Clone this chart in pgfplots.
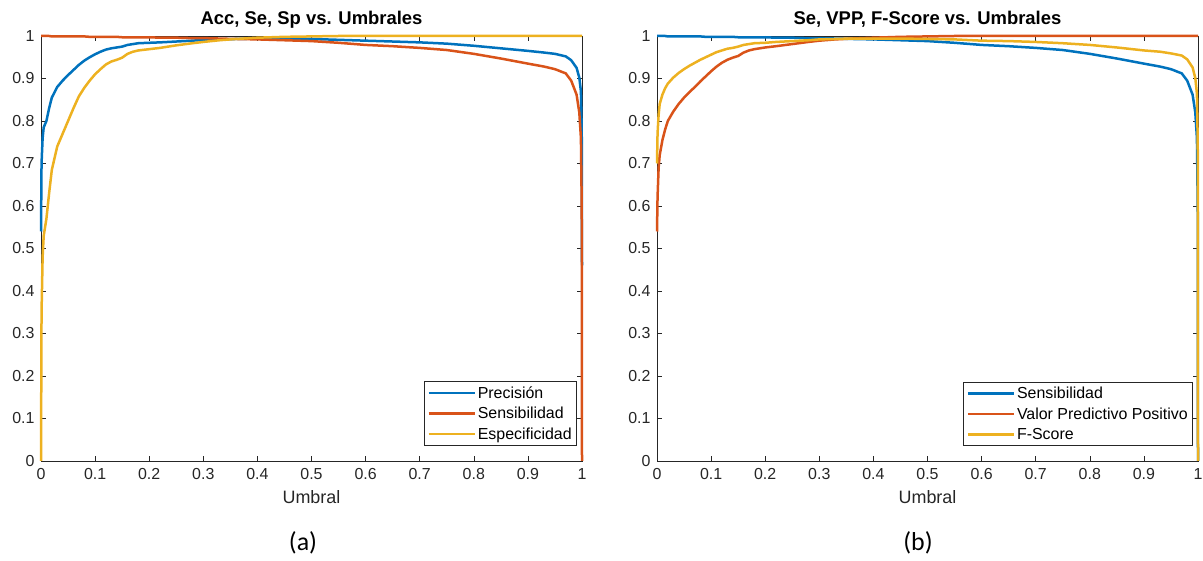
\documentclass[border=0pt]{standalone}
\usepackage{fontspec}
\setmainfont{Liberation Sans}
\newfontfamily\capfont{Carlito}
\usepackage{pgfplots}
\usepackage{pgfplotstable}
\pgfplotsset{compat=1.18}
\definecolor{mblue}{rgb}{0,0.447,0.741}
\definecolor{morange}{rgb}{0.85,0.325,0.098}
\definecolor{myellow}{rgb}{0.929,0.694,0.125}
\definecolor{axgray}{rgb}{0.15,0.15,0.15}

\pgfplotstableread{
x      acc    se     sp     vpp    f
0      0.54   1.000  0.00   0.54   0.70
0.001  0.70   1.000  0.35   0.62   0.77
0.003  0.76   1.000  0.48   0.69   0.815
0.005  0.785  1.000  0.53   0.72   0.84
0.01   0.80   1.000  0.57   0.755  0.862
0.015  0.83   1.000  0.63   0.78   0.877
0.02   0.855  0.999  0.685  0.80   0.888
0.03   0.88   0.999  0.74   0.822  0.902
0.04   0.895  0.999  0.77   0.84   0.913
0.05   0.908  0.999  0.80   0.855  0.922
0.06   0.92   0.999  0.83   0.868  0.93
0.07   0.932  0.999  0.858  0.88   0.937
0.08   0.942  0.999  0.878  0.893  0.944
0.09   0.95   0.998  0.895  0.905  0.950
0.1    0.957  0.998  0.91   0.917  0.956
0.11   0.963  0.998  0.922  0.928  0.962
0.12   0.968  0.998  0.933  0.937  0.966
0.13   0.971  0.998  0.94   0.944  0.970
0.14   0.973  0.998  0.944  0.949  0.972
0.15   0.975  0.997  0.949  0.953  0.975
0.16   0.979  0.997  0.958  0.961  0.979
0.17   0.981  0.997  0.963  0.966  0.981
0.18   0.983  0.997  0.966  0.969  0.983
0.2    0.984  0.997  0.969  0.973  0.984
0.22   0.985  0.996  0.972  0.976  0.986
0.25   0.987  0.996  0.978  0.981  0.988
0.28   0.989  0.995  0.983  0.986  0.990
0.3    0.991  0.995  0.986  0.989  0.992
0.33   0.992  0.994  0.990  0.992  0.993
0.36   0.993  0.993  0.993  0.994  0.994
0.4    0.994  0.992  0.996  0.996  0.994
0.45   0.994  0.990  0.998  0.998  0.994
0.5    0.993  0.988  0.999  0.999  0.993
0.55   0.991  0.984  1.0    1.0    0.992
0.6    0.989  0.979  1.0    1.0    0.989
0.65   0.987  0.976  1.0    1.0    0.988
0.7    0.985  0.972  1.0    1.0    0.986
0.75   0.982  0.967  1.0    1.0    0.983
0.8    0.977  0.958  1.0    1.0    0.979
0.85   0.971  0.947  1.0    1.0    0.973
0.9    0.965  0.935  1.0    1.0    0.966
0.93   0.961  0.928  1.0    1.0    0.963
0.95   0.958  0.922  1.0    1.0    0.959
0.97   0.952  0.912  1.0    1.0    0.954
0.98   0.943  0.895  1.0    1.0    0.945
0.99   0.925  0.862  1.0    1.0    0.926
0.995  0.902  0.82   1.0    1.0    0.901
0.998  0.87   0.76   1.0    1.0    0.864
0.9995 0.78   0.60   1.0    1.0    0.75
1.0    0.46   0.00   1.0    1.0    0.00
}\data

\pgfplotsset{
  mstyle/.style={
    scale only axis, width=541bp, height=425bp,
    xmin=0, xmax=1, ymin=0, ymax=1,
    xtick={0,0.1,0.2,0.3,0.4,0.5,0.6,0.7,0.8,0.9,1},
    ytick={0,0.1,0.2,0.3,0.4,0.5,0.6,0.7,0.8,0.9,1},
    scaled ticks=false,
    tick align=inside,
    major tick length=5bp,
    axis line style={axgray, line width=0.6bp},
    every tick/.style={axgray, line width=0.6bp},
    /pgf/number format/assume math mode=true,
    ticklabel style={font=\fontsize{16}{16}\selectfont, text=axgray},
    xticklabel style={yshift=-4bp},
    yticklabel style={xshift=-3bp},
    title style={font=\bfseries\fontsize{18.5}{18.5}\selectfont, text=black, at={(0.5,1)}, anchor=base, yshift=6bp},
    xlabel style={font=\fontsize{18}{18}\selectfont, text=axgray, at={(0.5,0)}, anchor=base, yshift=-42bp},
    xlabel={Umbral},
    clip=false,
    legend style={font=\fontsize{16}{17}\selectfont, draw=axgray, line width=0.6bp,
      at={(1,0)}, anchor=south east, xshift=-5bp, yshift=15bp,
      inner xsep=3bp, inner ysep=3bp, row sep=3.5bp},
    legend cell align=left,
    legend image code/.code={\draw[#1, line width=2.5bp] (0bp,0bp) -- (46bp,0bp);},
  }
}

\begin{document}
\begin{tikzpicture}
\path[use as bounding box] (0,0) rectangle (1203bp,561bp);
\begin{axis}[mstyle, at={(41bp,100bp)}, anchor=south west,
  title={Acc, Se, Sp vs. Umbrales}]
\addplot[mblue, line width=2.5bp] table[x=x, y=acc] {\data};
\addlegendentry{Precisión}
\addplot[morange, line width=2.5bp] table[x=x, y=se] {\data};
\addlegendentry{Sensibilidad}
\addplot[myellow, line width=2.5bp] table[x=x, y=sp] {\data};
\addlegendentry{Especificidad}
\end{axis}
\begin{axis}[mstyle, at={(657bp,100bp)}, anchor=south west,
  title={Se, VPP, F-Score vs. Umbrales}]
\addplot[mblue, line width=2.5bp] table[x=x, y=se] {\data};
\addlegendentry{Sensibilidad}
\addplot[morange, line width=2.5bp] table[x=x, y=vpp] {\data};
\addlegendentry{Valor Predictivo Positivo}
\addplot[myellow, line width=2.5bp] table[x=x, y=f] {\data};
\addlegendentry{F-Score}
\end{axis}
\node[font=\capfont\fontsize{26}{26}\selectfont, anchor=center] at (303bp,18bp) {(a)};
\node[font=\capfont\fontsize{26}{26}\selectfont, anchor=center] at (918bp,18bp) {(b)};
\end{tikzpicture}
\end{document}
